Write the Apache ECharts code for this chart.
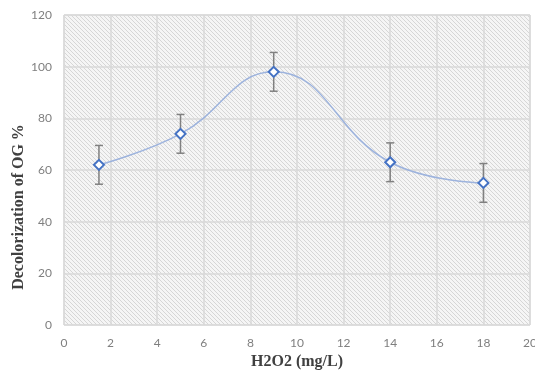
<!DOCTYPE html>
<html>
<head>
<meta charset="utf-8">
<script src="https://cdn.jsdelivr.net/npm/echarts@6/dist/echarts.min.js"></script>
<style>html,body{margin:0;padding:0;background:#fff;}#c{width:535px;height:372px;}</style>
</head>
<body>
<div id="c"></div>
<script>
const xValues = [1.5, 5, 9, 14, 18];
const yValues = [62, 74, 98, 63, 55];
const errValues = [7.5, 7.5, 7.5, 7.5, 7.5];
const xTicks = [0, 2, 4, 6, 8, 10, 12, 14, 16, 18, 20];
const yTicks = [0, 20, 40, 60, 80, 100, 120];
const xTitle = 'H2O2 (mg/L)';
const yTitle = 'Decolorization of OG %';

const pat = document.createElement('canvas');
pat.width = 4; pat.height = 4;
const g = pat.getContext('2d');
g.fillStyle = '#f5f5f5';
g.fillRect(0, 0, 4, 4);
g.strokeStyle = '#d6d6d6';
g.lineWidth = 1;
g.beginPath();
g.moveTo(-1, -1); g.lineTo(5, 5);
g.moveTo(-1, 3); g.lineTo(1, 5);
g.moveTo(3, -1); g.lineTo(5, 1);
g.stroke();

const points = xValues.map((x, i) => [x, yValues[i]]);
const errData = xValues.map((x, i) => [x, yValues[i] - errValues[i], yValues[i] + errValues[i]]);

const chart = echarts.init(document.getElementById('c'), null, {renderer: 'canvas'});
chart.setOption({
  animation: false,
  grid: {left: 64, right: 5, top: 15, bottom: 47, show: true, outerBoundsMode: 'none', containLabel: false,
    backgroundColor: {image: pat, repeat: 'repeat'}, borderColor: '#d9d9d9', borderWidth: 1},
  graphic: [{
    type: 'text', x: 19, y: 207, rotation: Math.PI / 2,
    style: {text: yTitle, fontFamily: 'Liberation Serif', fontWeight: 'bold', fontSize: 16, fill: '#404040',
      align: 'center', verticalAlign: 'middle'}
  }],
  xAxis: {
    type: 'value', min: xTicks[0], max: xTicks[xTicks.length - 1], interval: 2,
    name: xTitle, nameLocation: 'middle', nameGap: 29,
    nameTextStyle: {fontFamily: 'Liberation Serif', fontWeight: 'bold', fontSize: 16, color: '#404040'},
    axisLine: {show: false}, axisTick: {show: false},
    axisLabel: {color: '#7f7f7f', fontSize: 12, fontFamily: 'Lato', margin: 12},
    splitLine: {show: true, lineStyle: {color: '#d9d9d9', width: 1.5}}
  },
  yAxis: {
    type: 'value', min: yTicks[0], max: yTicks[yTicks.length - 1], interval: 20,
    axisLine: {show: false}, axisTick: {show: false},
    axisLabel: {color: '#7f7f7f', fontSize: 12, fontFamily: 'Lato', margin: 12},
    splitLine: {show: true, lineStyle: {color: '#d9d9d9', width: 1.5}}
  },
  series: [
    {
      type: 'custom',
      data: errData,
      z: 3,
      renderItem: function (params, api) {
        const x = api.value(0);
        const lo = api.coord([x, api.value(1)]);
        const hi = api.coord([x, api.value(2)]);
        const cap = 4;
        const st = {stroke: '#808080', lineWidth: 1.5};
        return {
          type: 'group',
          children: [
            {type: 'line', shape: {x1: lo[0], y1: lo[1], x2: hi[0], y2: hi[1]}, style: st},
            {type: 'line', shape: {x1: lo[0] - cap, y1: lo[1], x2: lo[0] + cap, y2: lo[1]}, style: st},
            {type: 'line', shape: {x1: hi[0] - cap, y1: hi[1], x2: hi[0] + cap, y2: hi[1]}, style: st}
          ]
        };
      }
    },
    {
      type: 'line',
      data: points,
      smooth: 0.45,
      z: 4,
      symbol: 'diamond',
      symbolSize: 10,
      lineStyle: {color: '#9db3dd', width: 1.5},
      itemStyle: {color: '#ffffff', borderColor: '#4472c4', borderWidth: 2}
    }
  ]
});
</script>
</body>
</html>
